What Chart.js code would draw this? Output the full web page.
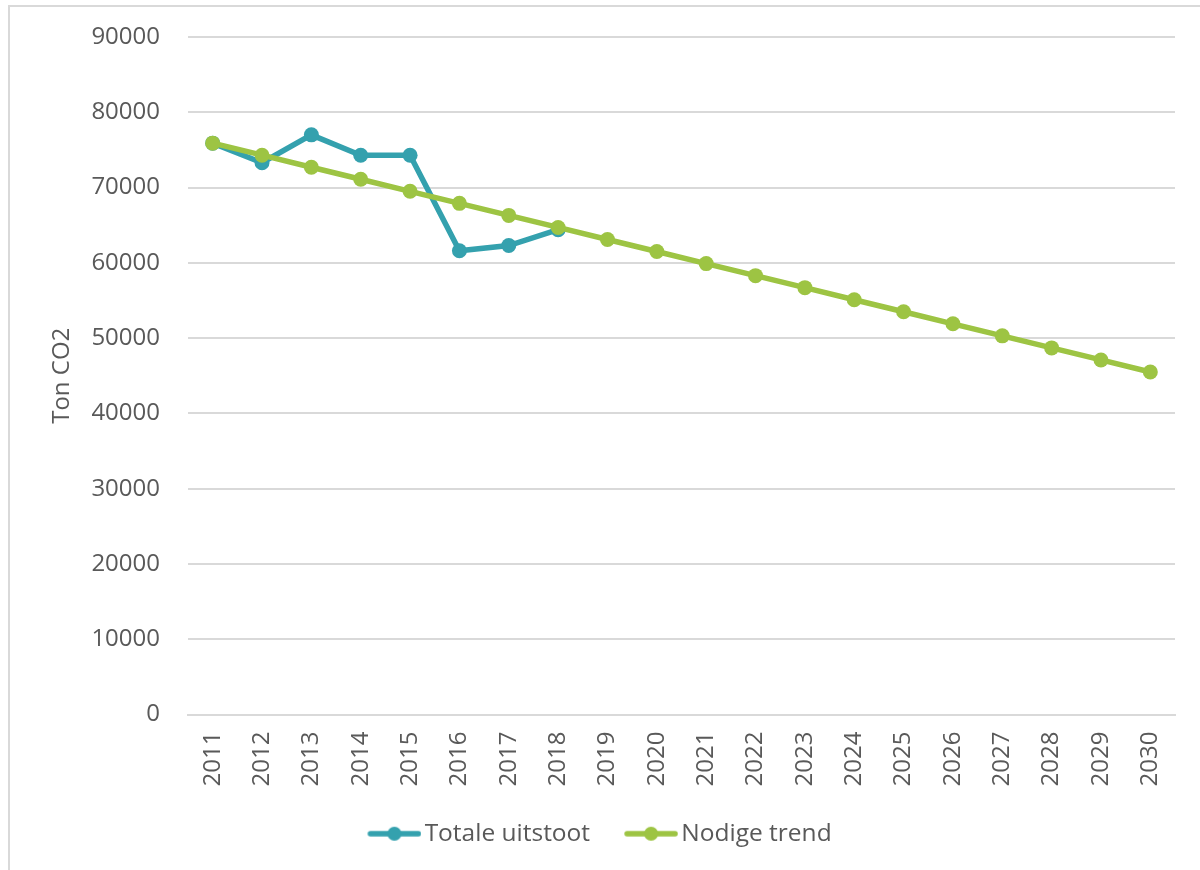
<!DOCTYPE html>
<html>
<head>
<meta charset="utf-8">
<script src="https://cdn.jsdelivr.net/npm/chart.js@4"></script>
<style>
    html, body { margin: 0; padding: 0; background: #fff; }
    body { width: 1200px; height: 870px; position: relative; overflow: hidden; }
    #frame { position: absolute; left: 8px; top: 5px; width: 1200px; height: 880px; border: 2px solid #d9d9d9; box-sizing: border-box; }
    #wrap { position: absolute; left: 0; top: 0; width: 1200px; height: 870px; }
</style>
</head>
<body>
<div id="frame"></div>
<div id="wrap"><canvas id="chart"></canvas></div>
<script>
// jaren op de x-as
const years = ['2011', '2012', '2013', '2014', '2015', '2016', '2017', '2018', '2019', '2020',
    '2021', '2022', '2023', '2024', '2025', '2026', '2027', '2028', '2029', '2030'];

// gemeten uitstoot (ton CO2), alleen tot 2018
const totaleUitstoot = [75900, 73300, 77000, 74300, 74300, 61600, 62300, 64400];

// benodigde reductiepad tot 2030
const nodigeTrend = [75900, 74300, 72700, 71100, 69500, 67900, 66300, 64700, 63100, 61500,
    59900, 58300, 56700, 55100, 53500, 51900, 50300, 48700, 47100, 45500];

const yTicks = [0, 10000, 20000, 30000, 40000, 50000, 60000, 70000, 80000, 90000];

const TEAL = '#34a1ae';
const GREEN = '#9dc443';
const TEXT = '#595959';
const FONT = "'Open Sans', 'DejaVu Sans', sans-serif";

// legenda-symbool: lijntje met bolletje, zoals in Excel
// (links transparante ruimte zodat het symbool dicht tegen de tekst staat)
const legendIcon = (color) => {
    const c = document.createElement('canvas');
    c.width = 87;
    c.height = 16;
    const ctx = c.getContext('2d');
    ctx.strokeStyle = color;
    ctx.lineWidth = 5.5;
    ctx.lineCap = 'round';
    ctx.beginPath();
    ctx.moveTo(36, 8);
    ctx.lineTo(84, 8);
    ctx.stroke();
    ctx.fillStyle = color;
    ctx.beginPath();
    ctx.arc(60, 8, 7, 0, Math.PI * 2);
    ctx.fill();
    return c;
};

const icons = [legendIcon(TEAL), legendIcon(GREEN)];

new Chart(document.getElementById('chart'), {
    type: 'line',
    data: {
        labels: years,
        datasets: [
            {
                label: 'Totale uitstoot',
                data: totaleUitstoot,
                borderColor: TEAL,
                backgroundColor: TEAL,
                borderWidth: 5.5,
                pointRadius: 7.5,
                pointHoverRadius: 7.5,
                pointBorderWidth: 0,
                tension: 0,
                order: 1,
            },
            {
                label: 'Nodige trend',
                data: nodigeTrend,
                borderColor: GREEN,
                backgroundColor: GREEN,
                borderWidth: 5.5,
                pointRadius: 7.5,
                pointHoverRadius: 7.5,
                pointBorderWidth: 0,
                tension: 0,
                order: 0,
            },
        ],
    },
    options: {
        responsive: true,
        maintainAspectRatio: false,
        animation: false,
        layout: { padding: { left: 0, right: 25, top: 37, bottom: 14 } },
        plugins: {
            tooltip: { enabled: false },
            legend: {
                position: 'bottom',
                labels: {
                    color: TEXT,
                    font: { family: FONT, size: 24.5 },
                    usePointStyle: true,
                    pointStyleWidth: 69,
                    boxHeight: 16,
                    padding: 10,
                    generateLabels: (chart) => chart.data.datasets.map((ds, i) => ({
                        text: ds.label,
                        fontColor: TEXT,
                        pointStyle: icons[i],
                        datasetIndex: i,
                        lineWidth: 0,
                    })),
                },
            },
        },
        scales: {
            x: {
                offset: true,
                afterFit: (scale) => {
                    scale.height = 97;
                    scale.paddingLeft = 0;
                    scale.paddingRight = 0;
                },
                grid: { display: false },
                border: { color: '#d9d9d9', width: 2 },
                ticks: {
                    color: TEXT,
                    font: { family: FONT, size: 24 },
                    minRotation: 90,
                    maxRotation: 90,
                    padding: 9,
                    autoSkip: false,
                },
            },
            y: {
                min: 0,
                max: 90000,
                afterFit: (scale) => {
                    scale.width = 188;
                    scale.paddingTop = 0;
                    scale.paddingBottom = 0;
                },
                afterBuildTicks: (scale) => { scale.ticks = yTicks.map(v => ({ value: v })); },
                grid: { color: '#d9d9d9', lineWidth: 2, drawTicks: false },
                border: { display: false },
                ticks: {
                    color: TEXT,
                    font: { family: FONT, size: 24 },
                    padding: 28,
                    callback: (v) => String(v),
                },
                title: {
                    display: true,
                    text: 'Ton CO2',
                    color: TEXT,
                    font: { family: FONT, size: 24 },
                    padding: { top: 48, bottom: 0 },
                },
            },
        },
    },
});
</script>
</body>
</html>
